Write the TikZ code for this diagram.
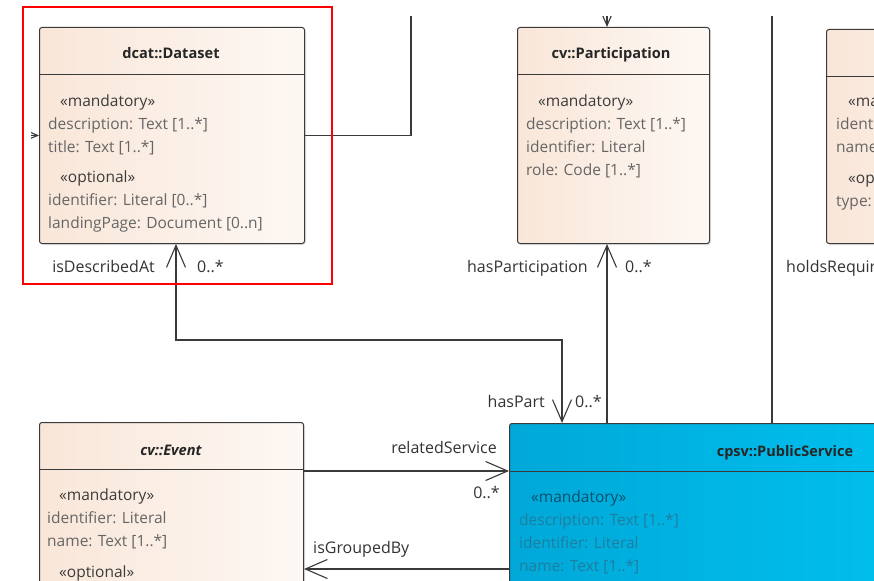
\documentclass[tikz,border=0pt]{standalone}
\usepackage{fontspec}
\setmainfont{Open Sans}
\usetikzlibrary{shapes, arrows.meta, positioning, shadows}
\definecolor{umlline}{HTML}{3A3A3A}
\definecolor{umlpeachL}{HTML}{F9E6D8}
\definecolor{umlpeachR}{HTML}{FDF8F4}
\definecolor{umlblueL}{HTML}{00A8D8}
\definecolor{umlblueR}{HTML}{00C9F7}
\definecolor{umlattr}{HTML}{666666}
\definecolor{umlstereo}{HTML}{3C3C3C}
\definecolor{psattr}{HTML}{1F7E9F}
\definecolor{psstereo}{HTML}{0C4F69}
\tikzstyle{umlclass} = [draw=umlline, line width=1pt, rounded corners=2.5pt, anchor=north west, inner sep=0pt, left color=umlpeachL, right color=umlpeachR, drop shadow={opacity=0.2, shadow xshift=1.5pt, shadow yshift=-1.5pt}]
\tikzstyle{pubclass} = [umlclass, left color=umlblueL, right color=umlblueR]
\tikzstyle{classname} = [anchor=base, font=\bfseries\fontsize{14.6}{16}\selectfont, text=black!85]
\tikzstyle{attrs} = [anchor=north west, align=left, inner sep=0pt, text=umlattr, font=\fontsize{15.5}{23}\selectfont]
\tikzstyle{role} = [inner sep=1pt, text=black!80, font=\fontsize{16}{18}\selectfont]
\tikzstyle{link} = [draw=umlline, line width=1.1pt]
\tikzstyle{nav} = [link, -{Straight Barb[length=22pt,width=19pt]}]
\tikzstyle{navboth} = [link, {Straight Barb[length=22pt,width=19pt]}-{Straight Barb[length=22pt,width=19pt]}]
\newcommand{\stereo}[2][umlstereo]{\hspace*{12pt}{\color{#1}«#2»}}

\begin{document}
\begin{tikzpicture}[x=1pt, y=-1pt]
  \useasboundingbox (0,0) rectangle (874,580);
  \fill[white] (0,0) rectangle (874,580);
  \begin{scope}
  \clip (31,17) rectangle (874,580);
  % classes
  \node[umlclass, minimum width=265pt, minimum height=216pt] (ds) at (39,27) {};
  \node[umlclass, minimum width=192pt, minimum height=216pt] (pa) at (517,27) {};
  \node[umlclass, minimum width=250pt, minimum height=214pt] (rq) at (826,29) {};
  \node[umlclass, minimum width=264pt, minimum height=200pt] (ev) at (39,422) {};
  \node[pubclass, minimum width=552pt, minimum height=200pt] (ps) at (509,423) {};
  \draw[link, line width=1pt] ([yshift=-48pt]ds.north west) -- ([yshift=-48pt]ds.north east);
  \draw[link, line width=1pt] ([yshift=-48pt]pa.north west) -- ([yshift=-48pt]pa.north east);
  \draw[link, line width=1pt] ([yshift=-48pt]rq.north west) -- ([yshift=-48pt]rq.north east);
  \draw[link, line width=1pt] ([yshift=-47pt]ev.north west) -- ([yshift=-47pt]ev.north east);
  \draw[link, line width=1pt] ([yshift=-48pt]ps.north west) -- ([yshift=-48pt]ps.north east);

  \node[classname] (dsname) at (171,59) {dcat::Dataset};
  \node[classname] (paname) at (611,59) {cv::Participation};
  \node[classname, font=\bfseries\itshape\fontsize{14.6}{16}\selectfont] (evname) at (171,455) {cv::Event};
  \node[classname, font=\bfseries\fontsize{14.5}{16}\selectfont] (psname) at (785,456) {cpsv::PublicService};

  \node[attrs] (dsattr) at (48,95) {\stereo{mandatory}\\ description: Text [1..*]\\ title: Text [1..*]\\[7pt] \stereo{optional}\\ identifier: Literal [0..*]\\ landingPage: Document [0..n]};
  \node[attrs] (paattr) at (526,95) {\stereo{mandatory}\\ description: Text [1..*]\\ identifier: Literal\\ role: Code [1..*]};
  \node[attrs] (rqattr) at (836,95) {\stereo{mandatory}\\ identifier: Literal\\ name: Text [1..*]\\[8pt] \stereo{optional}\\ type: Code};
  \node[attrs] (evattr) at (47,489) {\stereo{mandatory}\\ identifier: Literal\\ name: Text [1..*]\\[8pt] \stereo{optional}};
  \node[attrs, text=psattr] (psattr) at (519,491) {\stereo[psstereo]{mandatory}\\ description: Text [1..*]\\ identifier: Literal\\ name: Text [1..*]};

  % connectors
  \coordinate (dsin) at (0,135);
  \coordinate (dsup) at (411,0);
  \coordinate (paup) at (607,0);
  \coordinate (rqup) at (772,0);
  \coordinate (dsps) at (176,340);
  \coordinate (hp) at (562,0);
  \coordinate (rs) at (0,471);
  \coordinate (gb) at (0,569);
  \draw[nav] (dsin) -- (ds.west);
  \draw[link] (ds.east) -| (dsup);
  \draw[nav] (paup) -- (paup |- pa.north);
  \draw[nav] (paup |- ps.north) -- (paup |- pa.south);
  \draw[link] (rqup) -- (rqup |- ps.north);
  \draw[navboth] (dsps |- ds.south) -- (dsps) -| (hp |- ps.north);
  \draw[nav] (ev.east |- rs) -- (ps.west |- rs);
  \draw[nav] (ps.west |- gb) -- (ev.east |- gb);

  \node[role, anchor=base east] (isdesc) at (156,272) {isDescribedAt};
  \node[role, base right=40pt of isdesc] (isdescm) {0..*};
  \node[role, anchor=base east] (haspa) at (589,272) {hasParticipation};
  \node[role, base right=35pt of haspa] (haspam) {0..*};
  \node[role, anchor=base west] (holds) at (785,272) {holdsRequirement};
  \node[role, anchor=base east] (haspt) at (546,407) {hasPart};
  \node[role, base right=28pt of haspt] (haspartm) {0..*};
  \node[role, anchor=base east] (relsv) at (498,453) {relatedService};
  \node[role, anchor=base east] (relsvm) at (501,498) {0..*};
  \node[role, anchor=base west] (grpby) at (312,553) {isGroupedBy};
  \end{scope}
  \draw[red, line width=2pt] (23,7) rectangle (332,284);
\end{tikzpicture}
\end{document}
